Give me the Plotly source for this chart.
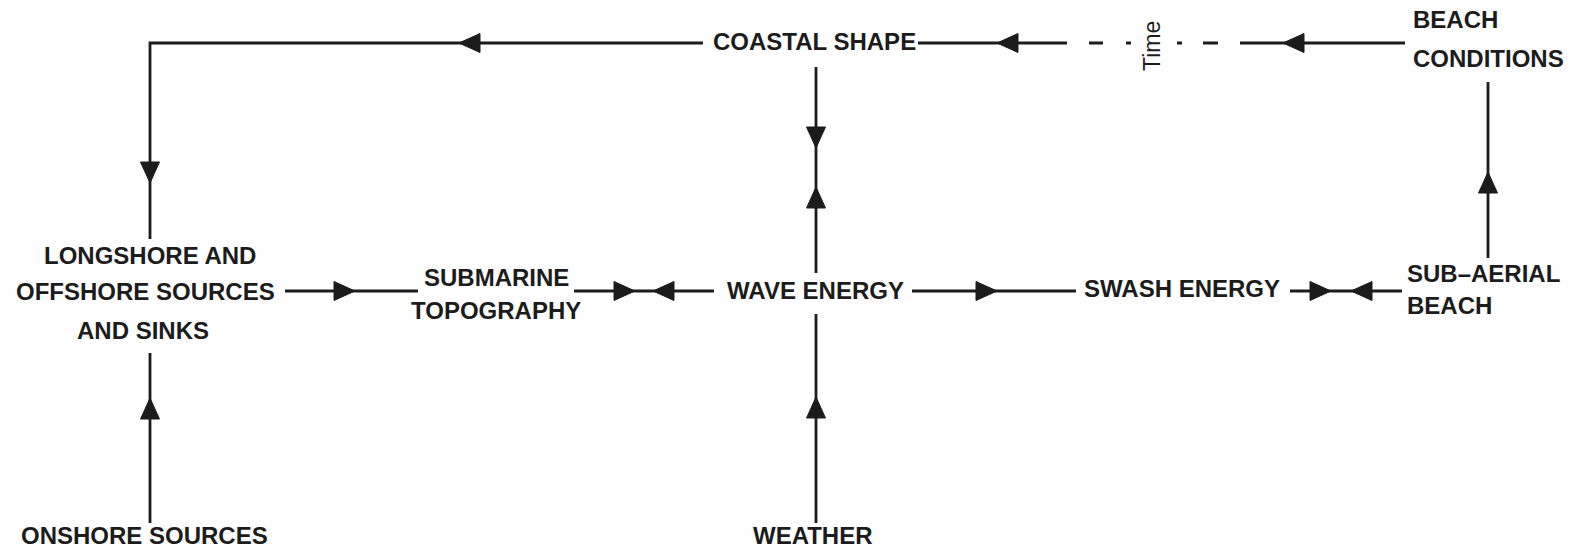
import plotly.graph_objects as go

W, H = 1582, 552
INK = "#1c1c1c"
FONT = "Liberation Sans"

# ---- text labels (each line separately): text, x, y, anchor ----
label_text = ["COASTAL SHAPE", "BEACH", "CONDITIONS",
              "LONGSHORE AND", "OFFSHORE SOURCES", "AND SINKS",
              "SUBMARINE", "TOPOGRAPHY", "WAVE ENERGY", "SWASH ENERGY",
              "SUB\u2013AERIAL", "BEACH", "ONSHORE SOURCES", "WEATHER"]
label_x = [814, 1411, 1411, 150, 145, 143, 496, 496, 815, 1182, 1405, 1405, 144, 813]
label_y = [43, 21, 60, 257, 293, 332, 279, 312, 292, 290, 275, 307, 537, 537]
label_anchor = ["center", "left", "left", "center", "center", "center", "center",
                "center", "center", "center", "left", "left", "center", "center"]

# ---- solid connector polylines ----
solid_paths = [
    [(703, 43), (150, 43), (150, 239)],      # coastal shape -> longshore
    [(918, 43), (1067, 43)],                 # time link (left solid part)
    [(1240, 43), (1405, 43)],                # time link (right solid part)
    [(816, 67), (816, 273)],                 # coastal shape <-> wave energy
    [(816, 314), (816, 523)],                # weather -> wave energy
    [(150, 353), (150, 523)],                # onshore -> longshore
    [(285, 291), (418, 291)],                # longshore -> submarine
    [(574, 291), (714, 291)],                # submarine <-> wave
    [(912, 291), (1076, 291)],               # wave -> swash
    [(1290, 291), (1402, 291)],              # swash <-> sub-aerial
    [(1488, 258), (1488, 82)],               # sub-aerial -> beach conditions
]
dashed_path = [(1089, 43), (1240, 43)]
dash_pattern = "14px,23px,5px,46px,5px,21px,15px,22px"

# ---- arrowheads: tip x, tip y, direction ----
arrow_x = [459, 150, 997, 1283, 816, 816, 816, 150, 355, 635, 653, 997, 1331, 1351, 1488]
arrow_y = [43, 183, 43, 43, 148, 187, 397, 398, 291, 291, 291, 291, 291, 291, 172]
arrow_dir = ["L", "D", "L", "L", "D", "U", "U", "U", "R", "R", "L", "R", "R", "L", "U"]

fig = go.Figure()

for path in solid_paths:
    fig.add_trace(go.Scatter(x=[p[0] for p in path], y=[p[1] for p in path],
                             mode="lines", line=dict(color=INK, width=2.8),
                             hoverinfo="skip", showlegend=False))

fig.add_trace(go.Scatter(x=[p[0] for p in dashed_path], y=[p[1] for p in dashed_path],
                         mode="lines", line=dict(color=INK, width=2.8, dash=dash_pattern),
                         hoverinfo="skip", showlegend=False))

# arrowhead polygons
L, HW = 21, 9.5
dirs = {"L": (-1, 0), "R": (1, 0), "U": (0, -1), "D": (0, 1)}
ax_, ay_ = [], []
for x, y, d in zip(arrow_x, arrow_y, arrow_dir):
    dx, dy = dirs[d]
    nx, ny = -dy, dx
    bx, by = x - L * dx, y - L * dy
    ax_ += [x, bx + HW * nx, bx - HW * nx, x, None]
    ay_ += [y, by + HW * ny, by - HW * ny, y, None]
fig.add_trace(go.Scatter(x=ax_, y=ay_, mode="lines", fill="toself",
                         fillcolor=INK, line=dict(color=INK, width=1),
                         hoverinfo="skip", showlegend=False))

for t, x, y, a in zip(label_text, label_x, label_y, label_anchor):
    fig.add_annotation(x=x, y=y, text=t, showarrow=False, xanchor=a, yanchor="middle",
                       yshift=2, font=dict(family=FONT, size=24, color=INK, weight="bold"))

fig.add_annotation(x=1152, y=46, text="Time", showarrow=False, textangle=-90,
                   xanchor="center", yanchor="middle",
                   font=dict(family=FONT, size=23, color=INK))

fig.update_layout(
    width=W, height=H, margin=dict(l=0, r=0, t=0, b=0),
    paper_bgcolor="#fefefe", plot_bgcolor="#fefefe",
    xaxis=dict(range=[0, W], visible=False, fixedrange=True),
    yaxis=dict(range=[H, 0], visible=False, fixedrange=True),
)

fig.write_html("out.html", config={"displayModeBar": False},
               post_script="document.body.style.margin='0';document.body.style.overflow='hidden';")
